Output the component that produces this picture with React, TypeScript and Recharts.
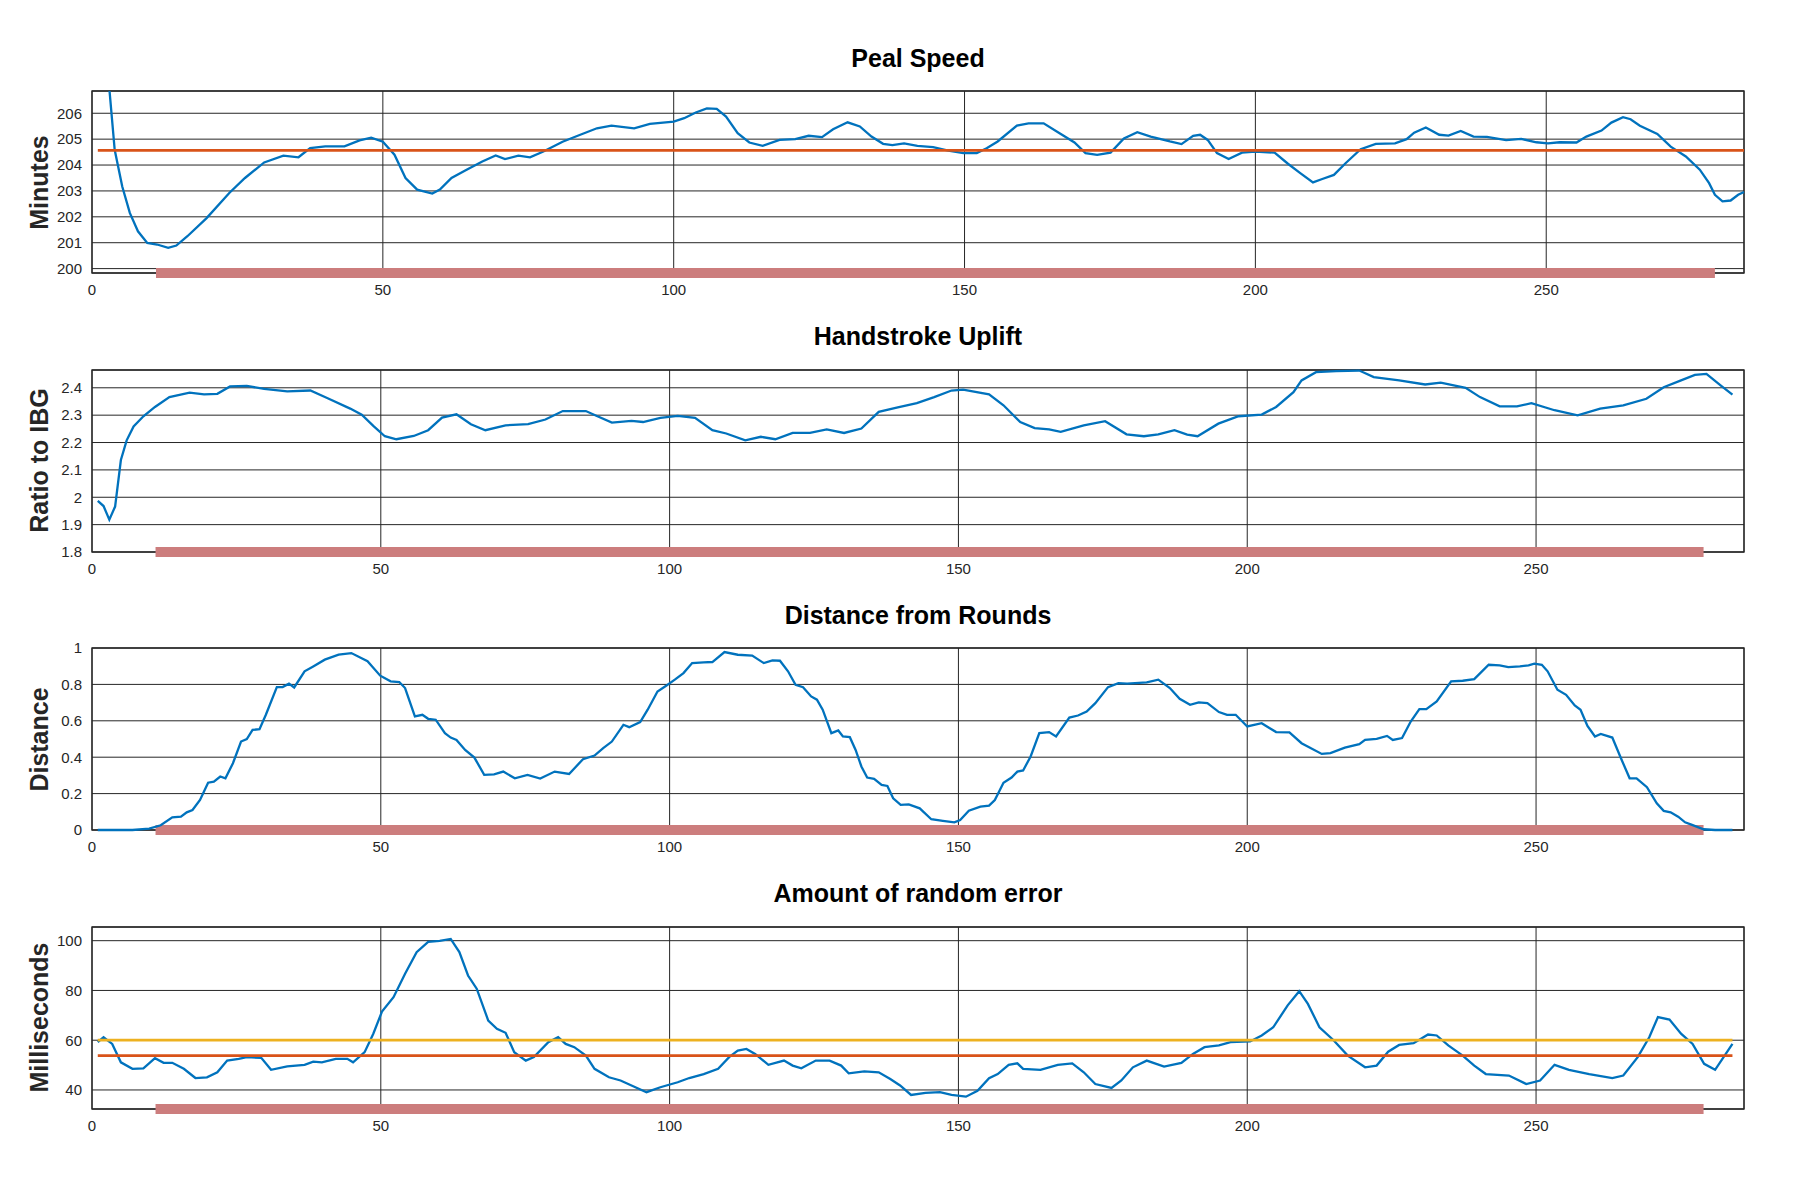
import React from "react";
import {
  LineChart, Line, XAxis, YAxis, CartesianGrid, ReferenceLine, ReferenceArea,
} from "recharts";

type Pt = [number, number];

const X_TICKS = [0, 50, 100, 150, 200, 250];
// rows covered by the touch (red bar under each plot)
const TOUCH_RANGE = [11, 279];

// --- Peal Speed (minutes) ---
const SPEED: Pt[] = [
  [1, 212], [2, 209.3], [3, 206.9], [3.9, 204.59], [5.2, 203.17], [6.5, 202.15], [7.9, 201.44],
  [9.5, 200.99], [11.2, 200.93], [13.1, 200.8], [14.5, 200.89], [16.4, 201.25], [19.7, 201.95],
  [23.6, 202.92], [26.3, 203.5], [29.6, 204.1], [32.9, 204.36], [35.5, 204.3], [37.5, 204.65],
  [40.1, 204.72], [43.4, 204.72], [46, 204.95], [48, 205.06], [50, 204.9], [52, 204.4],
  [53.9, 203.5], [55.9, 203.05], [58.5, 202.9], [59.8, 203.05], [61.8, 203.5], [64.4, 203.82],
  [67.1, 204.14], [69.4, 204.37], [71, 204.23], [73.3, 204.36], [75.3, 204.3], [77.6, 204.52],
  [80.9, 204.9], [83.5, 205.13], [86.8, 205.42], [89.3, 205.52], [93.2, 205.42], [95.9, 205.59],
  [100, 205.68], [101.8, 205.81], [103.8, 206.03], [105.7, 206.19], [107.4, 206.17], [109, 205.87],
  [111, 205.23], [113, 204.87], [115.3, 204.74], [118.2, 204.97], [120.9, 205.0], [123.2, 205.13],
  [125.5, 205.08], [127.4, 205.38], [129.9, 205.65], [132, 205.49], [134, 205.1], [136, 204.82],
  [137.6, 204.77], [139.6, 204.84], [141.9, 204.74], [144.6, 204.69], [147.2, 204.56],
  [149.8, 204.46], [152.1, 204.46], [153.8, 204.65], [155.7, 204.91], [159, 205.52], [161, 205.61],
  [163.6, 205.61], [166.2, 205.25], [168.9, 204.87], [170.8, 204.46], [172.8, 204.39],
  [175.1, 204.48], [177.4, 205.03], [179.7, 205.27], [182, 205.1], [185.3, 204.91], [187.3, 204.81],
  [189.3, 205.13], [190.5, 205.17], [191.8, 204.97], [193.4, 204.46], [195.4, 204.23],
  [197.7, 204.48], [200, 204.52], [203.3, 204.48], [205.6, 204.05], [207.6, 203.71],
  [209.9, 203.33], [211.5, 203.46], [213.5, 203.62], [215.5, 204.07], [218.1, 204.61],
  [220.7, 204.82], [224, 204.84], [226, 205.0], [227.3, 205.25], [229.3, 205.45], [231.6, 205.17],
  [233.2, 205.14], [235.3, 205.32], [237.5, 205.1], [239.8, 205.09], [243.1, 204.96],
  [245.7, 205.01], [248.3, 204.88], [250.3, 204.84], [252.3, 204.88], [255.2, 204.87],
  [256.9, 205.1], [259.5, 205.33], [261.2, 205.64], [263.2, 205.85], [264.5, 205.77],
  [266.1, 205.52], [269.1, 205.2], [271.4, 204.71], [274, 204.33], [276.4, 203.82], [278, 203.3],
  [279, 202.85], [280.3, 202.6], [281.7, 202.63], [283, 202.85], [284, 202.96],
];
const SPEED_MEAN = 204.57;
const SPEED_TICKS = [200, 201, 202, 203, 204, 205, 206];

// --- Handstroke Uplift (ratio to inter-bell gap) ---
const UPLIFT: Pt[] = [
  [1, 1.987], [2, 1.968], [3, 1.918], [4, 1.966], [5, 2.136], [6, 2.208], [7.2, 2.259],
  [8.9, 2.296], [10.9, 2.33], [13.4, 2.366], [16.9, 2.382], [19.4, 2.376], [21.7, 2.378],
  [23.9, 2.405], [26.8, 2.407], [29.8, 2.396], [33.8, 2.387], [37.8, 2.39], [40.8, 2.362],
  [44.7, 2.324], [46.7, 2.302], [48.7, 2.261], [50.7, 2.223], [52.7, 2.212], [55.7, 2.224],
  [58.2, 2.245], [60.6, 2.291], [63.1, 2.303], [65.6, 2.267], [68.1, 2.245], [71.6, 2.263],
  [75.5, 2.267], [78.5, 2.284], [81.5, 2.315], [85.5, 2.315], [87.5, 2.296], [90, 2.273],
  [93.4, 2.279], [95.4, 2.275], [98.4, 2.29], [101.4, 2.297], [104.4, 2.29], [107.4, 2.245],
  [109.8, 2.233], [113.1, 2.208], [115.8, 2.221], [118.3, 2.212], [121.3, 2.235], [124.3, 2.235],
  [127.2, 2.248], [130.2, 2.235], [133.2, 2.251], [136.2, 2.312], [139.5, 2.328], [142.8, 2.344],
  [145.8, 2.366], [148.8, 2.39], [150.8, 2.393], [155.3, 2.376], [157.8, 2.336], [160.7, 2.275],
  [163.2, 2.253], [165.7, 2.248], [167.7, 2.239], [171.7, 2.263], [175.4, 2.278], [179.1, 2.23],
  [182.1, 2.223], [184.6, 2.23], [187.4, 2.245], [189.6, 2.229], [191.4, 2.223], [195, 2.269],
  [198.5, 2.296], [202.5, 2.302], [205, 2.33], [208, 2.384], [209.4, 2.427], [211.9, 2.457],
  [215.4, 2.461], [219.4, 2.463], [221.9, 2.439], [226.3, 2.427], [230.8, 2.412], [233.5, 2.419],
  [237.8, 2.4], [240.3, 2.366], [243.7, 2.332], [246.7, 2.332], [249.2, 2.344], [253.2, 2.318],
  [257.2, 2.299], [261.1, 2.324], [265.1, 2.336], [269.1, 2.36], [272.1, 2.402], [275.1, 2.427],
  [277.5, 2.447], [279.5, 2.451], [282, 2.408], [284, 2.375],
];
const UPLIFT_TICKS = [1.8, 1.9, 2, 2.1, 2.2, 2.3, 2.4];

// --- Distance from Rounds ---
const DISTANCE: Pt[] = [
  [1, 0], [7, 0], [9.9, 0.007], [11.9, 0.026], [13.9, 0.07], [15.4, 0.073], [16.4, 0.097],
  [17.4, 0.11], [18.7, 0.165], [20.1, 0.26], [21.1, 0.266], [22.2, 0.294], [23.1, 0.284],
  [24.4, 0.367], [25.8, 0.486], [26.8, 0.499], [27.8, 0.55], [29, 0.554], [30.1, 0.633],
  [32, 0.785], [33, 0.785], [34.1, 0.804], [35, 0.783], [36.8, 0.872], [38.3, 0.899],
  [40.3, 0.936], [42.7, 0.963], [44.9, 0.972], [47.7, 0.927], [49.9, 0.848], [51.7, 0.817],
  [53.2, 0.813], [54.2, 0.78], [55.9, 0.624], [57.2, 0.633], [58.2, 0.611], [59.5, 0.606],
  [61.1, 0.532], [62.1, 0.508], [63.1, 0.495], [64.6, 0.44], [66.2, 0.398], [67.9, 0.303],
  [69.6, 0.306], [71.2, 0.321], [73.2, 0.284], [75.4, 0.303], [77.6, 0.283], [80.1, 0.321],
  [82.6, 0.308], [85, 0.389], [87, 0.409], [88.5, 0.45], [90, 0.486], [92, 0.578], [93, 0.565],
  [94.9, 0.593], [96.2, 0.661], [97.9, 0.761], [99.4, 0.793], [100.9, 0.826], [102.4, 0.862],
  [103.9, 0.917], [105.9, 0.921], [107.4, 0.923], [109.5, 0.978], [111.8, 0.963], [114.3, 0.958],
  [116.3, 0.917], [117.8, 0.932], [119.1, 0.93], [120.5, 0.872], [121.8, 0.798], [123.1, 0.785],
  [124.5, 0.734], [125.5, 0.716], [126.5, 0.661], [128, 0.532], [129.2, 0.547], [130, 0.514],
  [131.2, 0.51], [132.2, 0.44], [133.2, 0.349], [134.2, 0.288], [135.4, 0.281], [136.7, 0.248],
  [137.7, 0.242], [138.7, 0.174], [140, 0.138], [141.4, 0.141], [143.3, 0.119], [145.3, 0.059],
  [147.3, 0.05], [149.3, 0.042], [150.3, 0.055], [151.8, 0.106], [153.8, 0.128], [155.3, 0.134],
  [156.3, 0.165], [157.8, 0.26], [159.2, 0.288], [160.2, 0.321], [161.2, 0.327], [162.5, 0.404],
  [164, 0.532], [165.7, 0.538], [166.9, 0.514], [169.2, 0.618], [170.7, 0.629], [172.2, 0.651],
  [173.7, 0.697], [175.9, 0.785], [177.7, 0.807], [179.2, 0.804], [182.6, 0.811], [184.6, 0.826],
  [186.6, 0.78], [188.3, 0.721], [190.1, 0.688], [191.6, 0.701], [193.1, 0.697], [195.1, 0.648],
  [196.5, 0.633], [198, 0.633], [200, 0.569], [202.5, 0.587], [205, 0.538], [207.3, 0.536],
  [209.4, 0.477], [212.9, 0.418], [214.4, 0.422], [216.9, 0.453], [219.4, 0.472], [220.4, 0.495],
  [222.4, 0.501], [224.2, 0.517], [225.2, 0.495], [226.8, 0.505], [228.3, 0.596], [229.8, 0.664],
  [231, 0.664], [232.8, 0.706], [235.3, 0.817], [237.3, 0.82], [239.3, 0.829], [241.8, 0.908],
  [243.7, 0.905], [245.2, 0.895], [247.2, 0.899], [248.7, 0.905], [249.7, 0.914], [251, 0.908],
  [252, 0.872], [253.7, 0.771], [255.2, 0.743], [256.7, 0.684], [257.7, 0.661], [258.9, 0.572],
  [260.2, 0.514], [261.2, 0.528], [263.2, 0.508], [264.7, 0.394], [266.2, 0.284], [267.4, 0.284],
  [269.2, 0.235], [270.9, 0.147], [272.1, 0.105], [273.3, 0.097], [274.6, 0.073], [275.8, 0.042],
  [277, 0.028], [279, 0.004], [281, 0], [284, 0],
];
const DISTANCE_TICKS = [0, 0.2, 0.4, 0.6, 0.8, 1];

// --- Amount of random error (ms) ---
const ERROR: Pt[] = [
  [1, 59.2], [2, 61.2], [3.5, 58.5], [5, 51.1], [7, 48.5], [8.9, 48.7], [10.9, 52.8], [12.4, 50.9],
  [13.9, 50.9], [15.9, 48.5], [17.9, 44.8], [19.9, 45.1], [21.7, 47.1], [23.4, 51.8], [25.4, 52.5],
  [26.8, 53.2], [29.3, 52.9], [31, 48.1], [33.8, 49.5], [36.8, 50.1], [38.3, 51.4], [39.8, 51.1],
  [42.2, 52.5], [44.2, 52.5], [45.2, 51.1], [47.2, 55.2], [48.7, 62.6], [50.2, 71.5], [52.2, 77.3],
  [54.2, 86.7], [56.2, 95.4], [58.2, 99.5], [60.2, 99.9], [62.1, 100.7], [63.6, 95.4], [65.1, 86],
  [66.6, 80.7], [68.6, 67.9], [70.1, 64.6], [71.6, 63], [73.1, 55.2], [75.1, 51.8], [76.5, 53.2],
  [79, 59.2], [80.7, 61.2], [82, 58.5], [83.5, 57.2], [85.5, 53.8], [87, 48.5], [89.5, 45.1],
  [91.5, 43.8], [93.5, 41.7], [96, 39.1], [98.4, 41.1], [101.4, 43.1], [103.4, 44.8],
  [105.9, 46.4], [108.4, 48.5], [110.3, 53.2], [111.8, 55.8], [113.3, 56.5], [114.8, 54.5],
  [117.1, 50.1], [119.8, 51.8], [121.3, 49.8], [122.8, 48.7], [125.3, 51.8], [127.7, 51.8],
  [129.7, 49.8], [131, 46.7], [133.7, 47.5], [136.2, 47.1], [138.2, 44.4], [139.9, 41.8],
  [141.8, 38], [144.3, 38.8], [146.8, 39.1], [148.8, 38], [151.3, 37.3], [153.3, 39.7],
  [155.3, 44.7], [156.8, 46.4], [158.7, 50.1], [160.2, 50.7], [161.2, 48.5], [164.2, 48.1],
  [167.2, 50.1], [169.7, 50.7], [171.7, 47.1], [173.7, 42.4], [176.5, 40.8], [178.2, 43.8],
  [180.2, 49.1], [182.6, 51.8], [185.6, 49.4], [188.6, 50.9], [190.6, 54.5], [192.6, 57.2],
  [195.1, 57.9], [197.1, 59.2], [200.5, 59.5], [202.5, 61.9], [204.5, 65.2], [207, 74],
  [209, 79.7], [210.5, 74.6], [212.5, 65.2], [214.9, 60.1], [217.4, 53.8], [220.4, 49.1],
  [222.4, 49.8], [224.4, 55.4], [226.3, 58.1], [228.8, 58.8], [231.3, 62.3], [232.8, 61.9],
  [234.8, 57.9], [237.3, 53.8], [239.3, 49.8], [241.3, 46.4], [245.3, 45.8], [248.3, 42.4],
  [250.7, 43.8], [253.2, 50.1], [255.7, 48.1], [259.2, 46.4], [263.2, 44.8], [265.1, 45.8],
  [267.6, 53.2], [269.6, 61.2], [271.1, 69.3], [273.1, 68.3], [275.1, 62.6], [277.1, 58.5],
  [279.1, 50.5], [281, 48.1], [284, 58.5],
];
const ERROR_MEAN = 53.8;
const ERROR_TARGET = 60;
const ERROR_TICKS = [40, 60, 80, 100];

const BLUE = "#0072bd";
const ORANGE = "#d95319";
const YELLOW = "#edb120";
const BAR = "#cc7d7d";
const INK = "#262626";
const FONT = '"Liberation Sans", Arial, Helvetica, sans-serif';

const toRows = (pts: Pt[]) => pts.map(([x, y]) => ({ x, y }));
const flat = (v: number, from: number, to: number) => [{ x: from, y: v }, { x: to, y: v }];

interface PanelProps {
  top: number;
  title: string;
  ylabel: string;
  xMax: number;
  yDomain: [number, number];
  yTicks: number[];
  data: Pt[];
  levels?: { value: number; color: string }[];
  clip?: boolean;
}

function Panel({ top, title, ylabel, xMax, yDomain, yTicks, data, levels = [], clip = false }: PanelProps) {
  const [yMin, yMax] = yDomain;
  return (
    <div style={{ position: "absolute", left: 0, top: top - 10, width: 1800, height: 230 }}>
      <div
        style={{
          position: "absolute", left: 92, width: 1652, top: -35.5, lineHeight: "25px",
          fontSize: 25, fontWeight: "bold", textAlign: "center", color: "#000",
        }}
      >
        {title}
      </div>
      <div
        style={{
          position: "absolute", left: 38.5 - 150, top: 101 - 12.5, width: 300, height: 25,
          lineHeight: "25px", fontSize: 25, fontWeight: "bold", textAlign: "center",
          color: INK, transform: "rotate(-90deg)",
        }}
      >
        {ylabel}
      </div>
      <LineChart width={1800} height={230} margin={{ top: 10, right: 56, bottom: 8, left: 12 }}>
        <CartesianGrid stroke={INK} strokeWidth={1} />
        <XAxis
          type="number"
          dataKey="x"
          domain={[0, xMax]}
          ticks={X_TICKS}
          height={30}
          tickSize={0}
          tickMargin={11}
          axisLine={false}
          tick={{ fontSize: 15, fill: INK }}
        />
        <YAxis
          type="number"
          domain={yDomain}
          ticks={yTicks}
          allowDataOverflow={clip}
          width={80}
          tickSize={0}
          tickMargin={10}
          axisLine={false}
          tick={{ fontSize: 15, fill: INK }}
        />
        <ReferenceLine
          segment={[{ x: TOUCH_RANGE[0], y: yMin }, { x: TOUCH_RANGE[1], y: yMin }]}
          stroke={BAR}
          strokeWidth={10}
          ifOverflow="visible"
        />
        <ReferenceArea
          x1={0} x2={xMax} y1={yMin} y2={yMax}
          fill="none" fillOpacity={0} stroke={INK} strokeWidth={1.3} ifOverflow="visible"
        />
        <Line
          data={toRows(data)}
          dataKey="y"
          stroke={BLUE}
          strokeWidth={2.3}
          dot={false}
          activeDot={false}
          isAnimationActive={false}
        />
        {levels.map((l, i) => (
          <Line
            key={i}
            data={flat(l.value, 1, 284)}
            dataKey="y"
            stroke={l.color}
            strokeWidth={2.8}
            dot={false}
            activeDot={false}
            isAnimationActive={false}
          />
        ))}
      </LineChart>
    </div>
  );
}

export default function App() {
  return (
    <div
      style={{
        position: "absolute", left: 0, top: 0, width: 1800, height: 1200,
        background: "#fff", fontFamily: FONT,
      }}
    >
      <Panel
        top={91}
        title="Peal Speed"
        ylabel="Minutes"
        xMax={284}
        yDomain={[199.83, 206.86]}
        yTicks={SPEED_TICKS}
        data={SPEED}
        levels={[{ value: SPEED_MEAN, color: ORANGE }]}
        clip
      />
      <Panel
        top={369.5}
        title="Handstroke Uplift"
        ylabel="Ratio to IBG"
        xMax={286}
        yDomain={[1.8, 2.465]}
        yTicks={UPLIFT_TICKS}
        data={UPLIFT}
      />
      <Panel
        top={648}
        title="Distance from Rounds"
        ylabel="Distance"
        xMax={286}
        yDomain={[0, 1]}
        yTicks={DISTANCE_TICKS}
        data={DISTANCE}
      />
      <Panel
        top={926.5}
        title="Amount of random error"
        ylabel="Milliseconds"
        xMax={286}
        yDomain={[32.35, 105.5]}
        yTicks={ERROR_TICKS}
        data={ERROR}
        levels={[
          { value: ERROR_TARGET, color: YELLOW },
          { value: ERROR_MEAN, color: ORANGE },
        ]}
      />
    </div>
  );
}
